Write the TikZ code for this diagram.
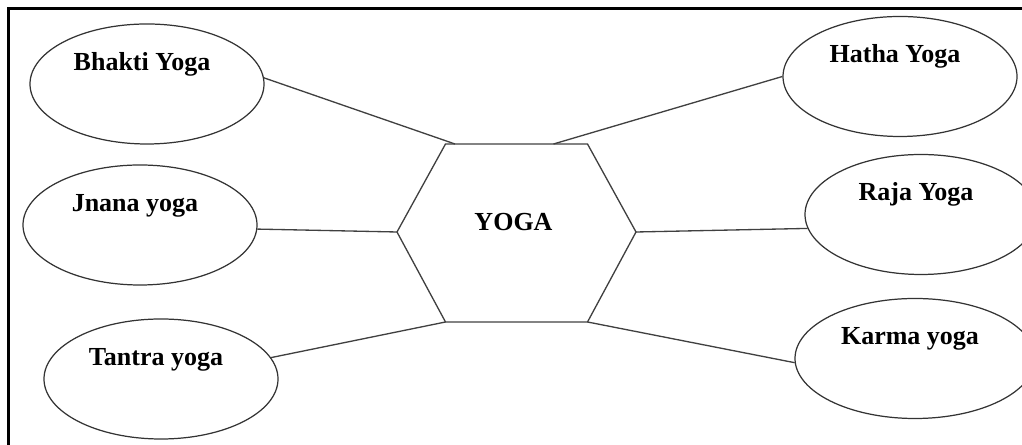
\documentclass[tikz,border=0pt]{standalone}
\usepackage{fontspec}
\setmainfont{Liberation Serif}
\usepackage{tikz}
\usetikzlibrary{shapes.geometric}

\begin{document}
\begin{tikzpicture}[font=\bfseries\fontsize{14.8}{17}\selectfont,
  branch/.style={ellipse, draw=black!80, line width=0.7pt, inner sep=0pt,
    minimum width=4.68cm, minimum height=2.4cm, text height=0.35cm, text depth=0.89cm,
    execute at begin node=\hspace*{-0.2cm}},
  link/.style={draw=black!75, line width=0.75pt}]
\useasboundingbox (0,0) rectangle (20.44,8.9);
\draw[line width=1.4pt] (0.174,0) -- (0.174,8.726) -- (20.44,8.726);
% centre hexagon
\coordinate (hextl) at (8.91,6.02);
\coordinate (hextr) at (11.75,6.02);
\coordinate (hexr) at (12.72,4.26);
\coordinate (hexbr) at (11.75,2.46);
\coordinate (hexbl) at (8.91,2.46);
\coordinate (hexl) at (7.94,4.26);
\coordinate (hexbj) at (9.10,6.02);
\coordinate (hexhj) at (11.07,6.02);
\draw[link] (hextl) -- (hextr) -- (hexr) -- (hexbr) -- (hexbl) -- (hexl) -- cycle;
\node (yoga) at (10.27,4.46) {YOGA};
% the six kinds
\node[branch] (bhakti) at (2.94,7.22) {Bhakti Yoga};
\node[branch] (jnana) at (2.80,4.40) {Jnana yoga};
\node[branch] (tantra) at (3.22,1.32) {Tantra yoga};
\node[branch] (hatha) at (18.00,7.37) {Hatha Yoga};
\node[branch, minimum width=4.64cm] (raja) at (18.42,4.61) {Raja Yoga};
\node[branch, minimum width=4.8cm] (karma) at (18.30,1.73) {Karma yoga};
\draw[link] (bhakti.3) -- (hexbj);
\draw[link] (jnana.-2) -- (hexl);
\draw[link] (tantra.11) -- (hexbl);
\draw[link] (hatha.west) -- (hexhj);
\draw[link] (raja.187) -- (hexr);
\draw[link] (karma.182) -- (hexbr);
\end{tikzpicture}
\end{document}
